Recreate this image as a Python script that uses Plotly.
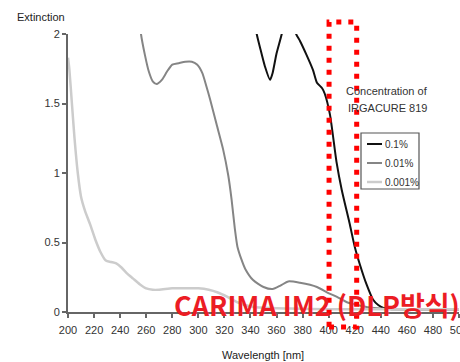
import plotly.graph_objects as go

# ---- data ----
series_names = ["0.1%", "0.01%", "0.001%"]

wl_01 = [343, 344.8, 347.4, 351, 355, 357, 360, 364, 366, None,
         373, 375, 378, 383, 388, 391, 395, 397, 401, 406, 410, 416, 420,
         424, 429, 434, 438, 442, 448, 455, 470, 500]
ext_01 = [2.12, 2.0, 1.9, 1.77, 1.67, 1.72, 1.86, 2.0, 2.1, None,
          2.08, 2.0, 1.95, 1.85, 1.74, 1.65, 1.61, 1.57, 1.42, 1.08, 0.88, 0.64, 0.47,
          0.34, 0.2, 0.09, 0.05, 0.03, 0.02, 0.02, 0.02, 0.02]

wl_001 = [255, 256, 259, 262, 265, 268, 272, 276, 280, 285, 290, 295, 299, 303,
          306, 309, 314, 319, 323, 325.5, 328, 330, 333, 336, 342, 350, 357, 363,
          369, 378, 391, 399, 406, 414, 422, 430, 440, 460, 500]
ext_001 = [2.1, 2.0, 1.85, 1.73, 1.66, 1.64, 1.67, 1.73, 1.78, 1.79, 1.80, 1.80, 1.78, 1.72,
           1.63, 1.53, 1.35, 1.17, 0.98, 0.81, 0.6, 0.47, 0.38, 0.31, 0.23, 0.18, 0.165, 0.19,
           0.22, 0.21, 0.18, 0.14, 0.11, 0.07, 0.05, 0.035, 0.025, 0.02, 0.02]

wl_0001 = [200, 201, 203, 205, 207.5, 210, 213, 217, 221, 225, 229, 233, 237, 241,
           245, 250, 255, 260, 265, 270, 280, 290, 300, 308, 315, 322, 330, 340,
           350, 370, 400, 450, 500]
ext_0001 = [1.83, 1.75, 1.5, 1.25, 1.0, 0.83, 0.73, 0.63, 0.52, 0.43, 0.37, 0.36, 0.35, 0.32,
            0.28, 0.24, 0.2, 0.17, 0.16, 0.16, 0.17, 0.17, 0.17, 0.16, 0.14, 0.11, 0.07, 0.04,
            0.03, 0.025, 0.02, 0.02, 0.02]

x_ticks = list(range(200, 501, 20))
y_ticks = [0, 0.5, 1, 1.5, 2]

colors = ["#111111", "#858585", "#cccccc"]
widths = [2, 2, 2.5]

W, H = 460, 362
L, R, T, B = 68, 1, 34, 50
PW, PH = W - L - R, H - T - B


def px(xp):
    return (xp - L) / PW


def py(yp):
    return (H - B - yp) / PH


fig = go.Figure()
for xs, ys, c, w, n in zip([wl_01, wl_001, wl_0001], [ext_01, ext_001, ext_0001],
                           colors, widths, series_names):
    fig.add_trace(go.Scatter(x=xs, y=ys, mode="lines", name=n, showlegend=False,
                             line=dict(color=c, width=w, shape="spline", smoothing=0.6),
                             connectgaps=False))

axis_font = dict(family="Arial, Liberation Sans, sans-serif", size=11, color="#333333")
fig.update_xaxes(range=[200, 500], tickvals=x_ticks, ticks="outside", ticklen=4, tickwidth=1.5,
                 tickcolor="#666666", showline=True, linecolor="#666666", linewidth=2,
                 showgrid=False, zeroline=False, tickfont=axis_font, ticklabeloverflow="allow",
                 automargin=False, ticklabelstandoff=3)
fig.update_yaxes(range=[0, 2], tickvals=y_ticks, ticks="outside", ticklen=4, tickwidth=1.5,
                 tickcolor="#666666", showline=True, linecolor="#666666", linewidth=2,
                 showgrid=False, zeroline=False, tickfont=axis_font, automargin=False)

shapes = []
annots = []

# axis titles
annots.append(dict(text="Extinction", xref="paper", yref="paper", x=px(15), y=py(17),
                   xanchor="left", yanchor="middle", showarrow=False,
                   font=dict(family="Arial, Liberation Sans, sans-serif", size=11, color="#222222")))
annots.append(dict(text="Wavelength [nm]", xref="paper", yref="paper", x=px(263), y=py(355),
                   xanchor="center", yanchor="middle", showarrow=False,
                   font=dict(family="Arial, Liberation Sans, sans-serif", size=11, color="#222222")))

# legend title
annots.append(dict(text="Concentration of", xref="paper", yref="paper", x=px(387), y=py(91),
                   xanchor="center", yanchor="middle", showarrow=False,
                   font=dict(family="Arial, Liberation Sans, sans-serif", size=11, color="#333333")))
annots.append(dict(text="IRGACURE 819", xref="paper", yref="paper", x=px(387), y=py(108),
                   xanchor="center", yanchor="middle", showarrow=False,
                   font=dict(family="Arial, Liberation Sans, sans-serif", size=11, color="#333333")))

# legend box
shapes.append(dict(type="rect", xref="paper", yref="paper", x0=px(361), x1=px(419),
                   y0=py(189), y1=py(133), line=dict(color="#555555", width=1.2),
                   fillcolor="white", layer="above"))
for i, (n, c, w) in enumerate(zip(series_names, colors, widths)):
    yy = 144 + i * 19
    shapes.append(dict(type="line", xref="paper", yref="paper", x0=px(367), x1=px(382),
                       y0=py(yy), y1=py(yy), line=dict(color=c, width=w), layer="above"))
    annots.append(dict(text=n, xref="paper", yref="paper", x=px(383), y=py(yy),
                       xanchor="left", yanchor="middle", showarrow=False,
                       font=dict(family="Arial, Liberation Sans, sans-serif", size=10, color="#333333")))

# red dotted highlight
shapes.append(dict(type="rect", xref="x", yref="paper", x0=400.3, x1=421.5,
                   y0=py(327), y1=py(22), line=dict(color="#ff0000", width=5, dash="5px,7px"),
                   layer="above"))

annots.append(dict(text="<b>CARIMA IM2 (DLP방식)</b>", xref="paper", yref="paper", x=px(172),
                   y=py(304), xanchor="left", yanchor="middle", showarrow=False,
                   font=dict(family="Noto Sans CJK KR, Noto Sans, sans-serif", size=27,
                             color="#ec1c24")))

fig.update_layout(width=W, height=H, margin=dict(l=L, r=R, t=T, b=B),
                  plot_bgcolor="white", paper_bgcolor="white",
                  shapes=shapes, annotations=annots, showlegend=False)

fig.write_html("out.html")
